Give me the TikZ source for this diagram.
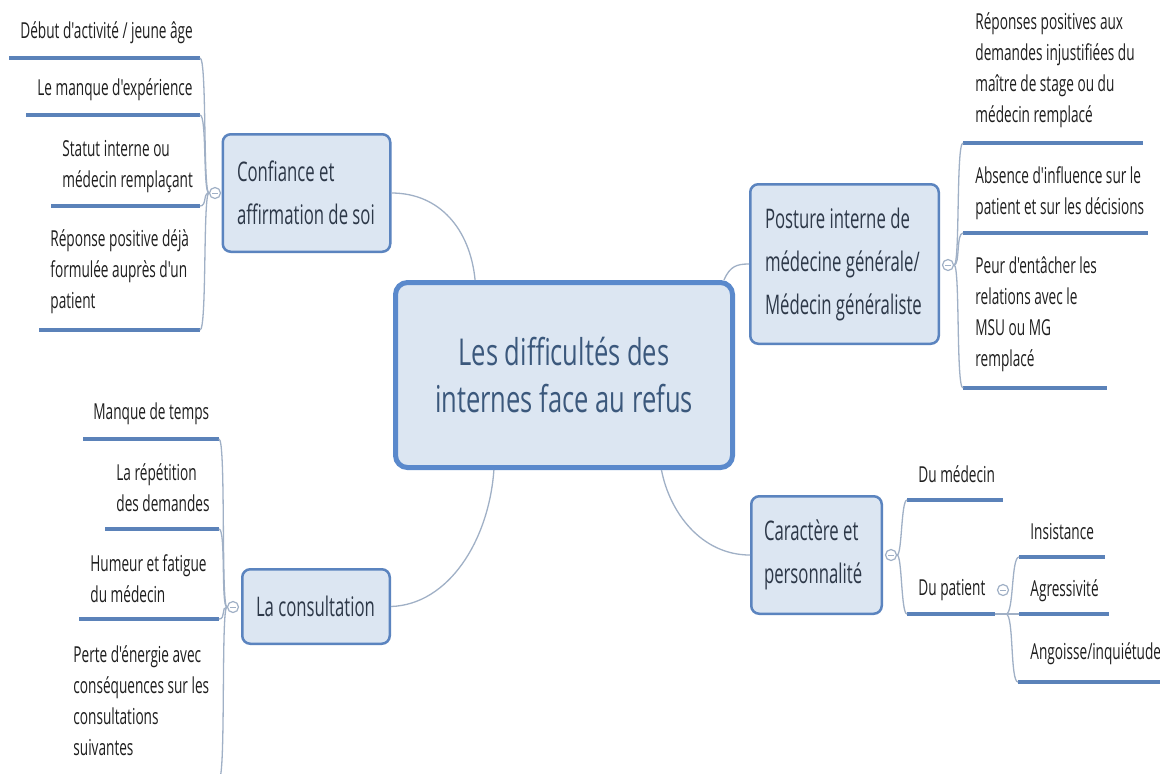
\documentclass[tikz,border=0pt]{standalone}
\usepackage{fontspec}
\setmainfont{Open Sans}[FakeStretch=0.62, Ligatures=TeXOff]
\newfontfamily\ctrfont{Open Sans}[FakeStretch=0.69, Ligatures=TeXOff]
\usetikzlibrary{calc}
\definecolor{boxfill}{HTML}{DCE6F2}
\definecolor{boxline}{HTML}{5B84BF}
\definecolor{ctrline}{HTML}{5A89CC}
\definecolor{connline}{HTML}{A0B0C6}
\definecolor{uline}{HTML}{5B82B9}
\definecolor{leaftext}{HTML}{1E1E1E}
\definecolor{branchtext}{HTML}{2D3848}
\definecolor{ctrtext}{HTML}{3B587C}
\newcommand{\leaffont}{\fontsize{11}{15.5}\selectfont}
\newcommand{\branchfont}{\fontsize{13.5}{21.5}\selectfont}
\newcommand{\ctrfontsize}{\ctrfont\fontsize{18.5}{23.5}\selectfont}
\newcommand{\natsp}{\spaceskip=0pt\xspaceskip=0pt\relax}
\begin{document}
\begin{tikzpicture}[x=0.5pt,y=-0.5pt,
  ctrbox/.style={draw=ctrline, fill=boxfill, line width=2.5pt, rounded corners=6pt,
    font=\ctrfontsize, text=ctrtext, align=center, inner sep=0pt,
    minimum width=168.5pt, minimum height=92.5pt},
  branchbox/.style={draw=boxline, fill=boxfill, line width=1.25pt, rounded corners=4pt,
    font=\branchfont, text=branchtext, align=left, inner sep=0pt,
    execute at begin node=\natsp},
  leaf/.style={font=\leaffont, text=leaftext, align=left, inner sep=0pt, anchor=west},
  ubar/.style={draw=uline, line width=2pt},
  conn/.style={draw=connline, line width=0.65pt},
  marker/.style={circle, draw=connline, line width=0.6pt, fill=white, minimum size=5.5pt, inner sep=0pt,
    path picture={\draw[connline, line width=0.5pt] ([xshift=-1.4pt]path picture bounding box.center) -- ([xshift=1.4pt]path picture bounding box.center);}}
]
\useasboundingbox (0,0) rectangle (1160,773);
\fill[white] (0,0) rectangle (1160,773);
\clip (0,0) rectangle (1160,773);

% ---------------- central topic
\node[ctrbox] (ctr) at (564,375) {Les difficultés des\\internes face au refus};

% ---------------- main branches
\node[branchbox, minimum width=83.75pt, minimum height=58.75pt, text width=69.5pt] (conf) at (306.5,193)
  {\natsp\mbox{Confiance et}\\\mbox{affirmation de soi}};
\node[branchbox, minimum width=73.75pt, minimum height=37.25pt, text width=60pt] (cons) at (316,606.5)
  {\natsp\mbox{La consultation}};
\node[branchbox, minimum width=94.25pt, minimum height=79.75pt, text width=79.5pt] (post) at (844.5,264)
  {\natsp\mbox{Posture interne de}\\\mbox{médecine générale/}\\\mbox{Médecin généraliste}};
\node[branchbox, minimum width=65.25pt, minimum height=58.75pt, text width=52.5pt] (car) at (816.5,555)
  {\natsp\mbox{Caractère et}\\\mbox{personnalité}};

% ---------------- connectors centre -> branches
\draw[conn] ($(ctr.north west)!0.24!(ctr.north east)$) .. controls +(-5,-51) and +(48,0) .. (conf.east);
\draw[conn] ($(ctr.south west)!0.295!(ctr.south east)$) .. controls +(-5,70) and +(58,-2) .. (cons.east);
\draw[conn] ($(ctr.north east)+(-11,0)$) .. controls +(6,-14) and +(-12,0) .. (post.west);
\draw[conn] ($(ctr.south west)!0.785!(ctr.south east)$) .. controls +(8,42) and +(-49,0) .. (car.west);

% ---------------- collapse markers
\node[marker] (mkconf) at (215,193) {};
\node[marker] (mkcons) at (233,607) {};
\node[marker] (mkpost) at (948,265) {};
\node[marker] (mkcar) at (891,555) {};
\node[marker] (mkdp) at (1003,590) {};

% ---------------- leaves: Confiance
\node[leaf] (cl1) at (20,33) {Début d'activité / jeune âge};
\node[leaf] (cl2) at (37,90) {Le manque d'expérience};
\node[leaf] (cl3) at (62,166.5) {Statut interne ou\\médecin remplaçant};
\node[leaf] (cl4) at (50,272) {Réponse positive déjà\\formulée auprès d'un\\patient};
\coordinate (cu1s) at (9,58);   \coordinate (cu1e) at (200,58);
\coordinate (cu2s) at (26,115); \coordinate (cu2e) at (200,115);
\coordinate (cu3s) at (51,206); \coordinate (cu3e) at (200,206);
\coordinate (cu4s) at (39,330); \coordinate (cu4e) at (200,330);
\foreach \i in {1,...,4}{\draw[ubar] (cu\i s) -- (cu\i e);}
\foreach \i in {1,...,4}{\draw[conn] (mkconf.west) .. controls +(-6,0) and +(7,0) .. (cu\i e);}

% ---------------- leaves: La consultation
\node[leaf] (sl1) at (93,414) {Manque de temps};
\node[leaf] (sl2) at (116,488) {La répétition\\des demandes};
\node[leaf] (sl3) at (90,578.5) {Humeur et fatigue\\du médecin};
\node[leaf] (sl4) at (73,701) {Perte d'énergie avec\\conséquences sur les\\consultations\\suivantes};
\coordinate (su1s) at (83,439);  \coordinate (su1e) at (219,439);
\coordinate (su2s) at (105,529); \coordinate (su2e) at (219,529);
\coordinate (su3s) at (79,619);  \coordinate (su3e) at (219,619);
\coordinate (su4s) at (63,779);  \coordinate (su4e) at (219,779);
\foreach \i in {1,...,4}{\draw[ubar] (su\i s) -- (su\i e);}
\foreach \i in {1,...,4}{\draw[conn] (mkcons.west) .. controls +(-6,0) and +(7,0) .. (su\i e);}

% ---------------- leaves: Posture
\node[leaf] (pl1) at (975,70.5) {Réponses positives aux\\demandes injustifiées du\\maître de stage ou du\\médecin remplacé};
\node[leaf] (pl2) at (975,193.5) {Absence d'influence sur le\\patient et sur les décisions};
\node[leaf] (pl3) at (975,314.5) {Peur d'entâcher les\\relations avec le\\MSU ou MG\\remplacé};
\coordinate (pu1s) at (963,143); \coordinate (pu1e) at (1143,143);
\coordinate (pu2s) at (963,233); \coordinate (pu2e) at (1148,233);
\coordinate (pu3s) at (963,388); \coordinate (pu3e) at (1107,388);
\foreach \i in {1,...,3}{\draw[ubar] (pu\i s) -- (pu\i e);}
\foreach \i in {1,...,3}{\draw[conn] (mkpost.east) .. controls +(6,0) and +(-7,0) .. (pu\i s);}

% ---------------- leaves: Caractère
\node[leaf] (kl1) at (918,474) {Du médecin};
\node[leaf] (kl2) at (918,590) {Du patient};
\coordinate (ku1s) at (907,500); \coordinate (ku1e) at (1003,500);
\coordinate (ku2s) at (907,614); \coordinate (ku2e) at (995,614);
\foreach \i in {1,2}{\draw[ubar] (ku\i s) -- (ku\i e);}
\foreach \i in {1,2}{\draw[conn] (mkcar.east) .. controls +(5,0) and +(-6,0) .. (ku\i s);}

% ---------------- leaves: Du patient
\node[leaf] (ql1) at (1030,532) {Insistance};
\node[leaf] (ql2) at (1030,591) {Agressivité};
\node[leaf] (ql3) at (1030,654) {Angoisse/inquiétude};
\coordinate (qu1s) at (1019,557); \coordinate (qu1e) at (1105,557);
\coordinate (qu2s) at (1019,614); \coordinate (qu2e) at (1109,614);
\coordinate (qu3s) at (1018,682); \coordinate (qu3e) at (1175,682);
\foreach \i in {1,...,3}{\draw[ubar] (qu\i s) -- (qu\i e);}
\coordinate (dpj) at (1006,614);
\draw[conn] (ku2e) -- (qu2s);
\draw[conn] (dpj) .. controls +(8,0) and +(-8,0) .. (qu1s);
\draw[conn] (dpj) .. controls +(8,0) and +(-8,0) .. (qu3s);
\end{tikzpicture}
\end{document}
